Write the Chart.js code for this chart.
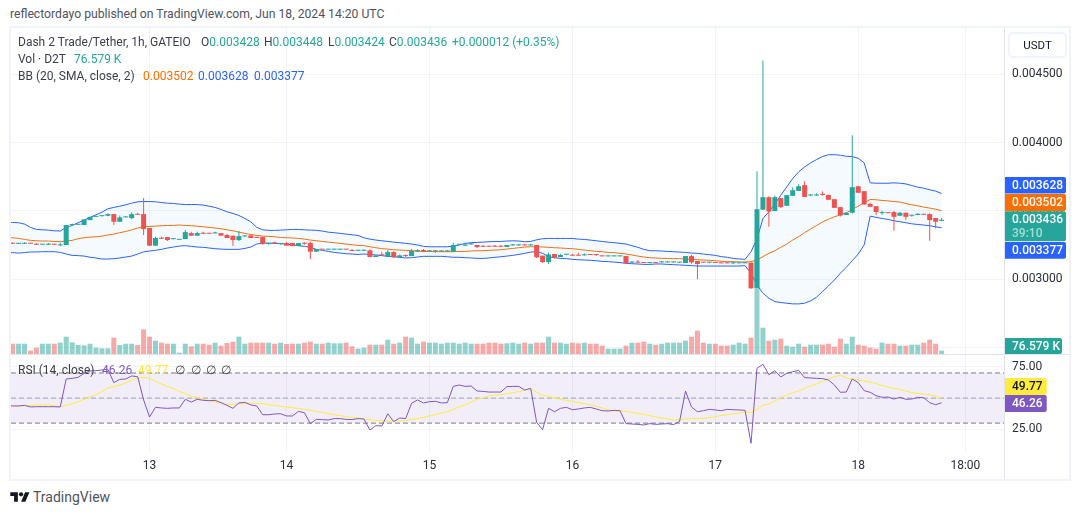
<!DOCTYPE html>
<html>
<head>
<meta charset="utf-8">
<title>Dash 2 Trade/Tether 1h</title>
<script src="https://cdn.jsdelivr.net/npm/chart.js@4/dist/chart.umd.min.js"></script>
<style>
  html, body { margin: 0; padding: 0; background: #fff; }
  body { width: 1080px; height: 515px; position: relative; overflow: hidden; font-family: Roboto, sans-serif; font-size: 12px; color: #3b3f4a; }
  canvas { position: absolute; left: 11px; }
  #priceChart { top: 28px; }
  #rsiChart { top: 355px; }
  .t { position: absolute; white-space: pre; line-height: 14px; z-index: 3; }
  .frame { position: absolute; left: 9px; top: 26px; width: 1058px; height: 451px; border: 2px solid #f0f3fa; }
  .line { position: absolute; background: #e0e3eb; z-index: 2; }
  #unit { position: absolute; left: 1008px; top: 32px; width: 55px; height: 22px; border: 2px solid #f0f3fa; border-radius: 5px; text-align: center; line-height: 22px; color: #131722; font-size: 11.5px; z-index: 3; }
  .g { color: #26a69a; }
  #logo { position: absolute; left: 10px; top: 490px; }
</style>
</head>
<body>
<div class="t" style="left:10px;top:7px;font-size:12.2px;color:#50535e">reflectordayo published on TradingView.com, Jun 18, 2024 14:20 UTC</div>
<div class="frame"></div>
<canvas id="priceChart" width="1058" height="326"></canvas>
<canvas id="rsiChart" width="1058" height="124"></canvas>
<div class="line" style="left:11px;top:354px;width:1058px;height:1px"></div>
<div class="line" style="left:1004px;top:28px;width:1px;height:451px"></div>

<div class="t" style="left:18px;top:35px">Dash 2 Trade/Tether, 1h, GATEIO</div>
<div class="t" style="left:201px;top:35px">O<span class="g">0.003428</span></div>
<div class="t" style="left:264px;top:35px">H<span class="g">0.003448</span></div>
<div class="t" style="left:328px;top:35px">L<span class="g">0.003424</span></div>
<div class="t" style="left:389px;top:35px">C<span class="g">0.003436</span></div>
<div class="t g" style="left:452px;top:35px">+0.000012 (+0.35%)</div>
<div class="t" style="left:18px;top:52px">Vol · D2T</div>
<div class="t g" style="left:74px;top:52px">76.579 K</div>
<div class="t" style="left:18px;top:69px">BB (20, SMA, close, 2)</div>
<div class="t" style="left:143px;top:69px;color:#ff6d00">0.003502</div>
<div class="t" style="left:198px;top:69px;color:#2962ff">0.003628</div>
<div class="t" style="left:254px;top:69px;color:#2962ff">0.003377</div>
<div class="t" style="left:18px;top:363px">RSI (14, close)</div>
<div class="t" style="left:102px;top:363px;color:#7e57c2">46.26</div>
<div class="t" style="left:138px;top:363px;color:#ffeb3b">49.77</div>
<div class="t" style="left:175px;top:363px">∅</div>
<div class="t" style="left:191px;top:363px">∅</div>
<div class="t" style="left:206px;top:363px">∅</div>
<div class="t" style="left:221px;top:363px">∅</div>
<div id="unit">USDT</div>
<svg id="logo" width="20" height="14" viewBox="0 0 36 26"><path fill="#131722" d="M14 22H7V11H0V4h14v18zM28 22h-8l7.5-18h8L28 22z"/><circle fill="#131722" cx="20" cy="8" r="4"/></svg>
<div class="t" style="left:33px;top:490px;font-size:14px;color:#50535e">TradingView</div>

<script>
// prices in millionths of USDT, one entry per hourly bar
const opens = [3263,
  3263,3260,3260,3263,3258,3253,3253,3255,3248,3251,
  3397,3399,3397,3433,3457,3462,3465,3477,3421,3453,
  3448,3479,3477,3375,3246,3304,3309,3294,3289,3294,
  3338,3319,3338,3338,3336,3338,3324,3319,3287,3314,
  3321,3309,3309,3258,3268,3258,3265,3265,3243,3265,
  3265,3202,3219,3217,3217,3217,3219,3214,3209,3209,
  3212,3163,3182,3165,3199,3161,3175,3170,3202,3214,
  3204,3204,3204,3204,3202,3253,3246,3255,3251,3243,
  3243,3243,3243,3236,3248,3248,3253,3248,3251,3173,
  3126,3185,3163,3180,3178,3178,3175,3182,3182,3173,
  3168,3168,3168,3170,3122,3126,3124,3119,3124,3124,
  3124,3124,3122,3119,3170,3134,3124,3122,3122,3122,
  3122,3117,3117,3117,3122,2937,3509,3601,3499,3594,
  3538,3611,3647,3689,3613,3613,3623,3616,3586,3528,
  3470,3487,3681,3645,3552,3535,3484,3489,3492,3465,
  3487,3465,3470,3477,3477,3448,3428];
const highs = [3272,
  3272,3265,3272,3265,3263,3258,3265,3258,3268,3397,
  3406,3406,3438,3457,3462,3467,3484,3477,3467,3462,
  3491,3487,3594,3375,3311,3311,3309,3299,3292,3360,
  3348,3348,3348,3341,3348,3338,3331,3319,3353,3324,
  3328,3311,3311,3265,3275,3263,3272,3265,3265,3272,
  3275,3221,3219,3219,3219,3219,3219,3221,3214,3219,
  3219,3175,3202,3214,3207,3182,3182,3221,3219,3221,
  3214,3212,3212,3214,3268,3258,3258,3263,3251,3251,
  3246,3251,3251,3251,3258,3258,3260,3260,3251,3173,
  3197,3185,3185,3185,3185,3195,3190,3185,3185,3173,
  3173,3173,3173,3170,3134,3141,3126,3126,3126,3134,
  3129,3129,3126,3170,3178,3134,3126,3126,3124,3124,
  3124,3129,3124,3124,3122,3791,4601,3608,3613,3594,
  3616,3672,3696,3718,3623,3628,3642,3621,3586,3528,
  3489,4054,3681,3645,3560,3535,3501,3491,3499,3492,
  3489,3472,3484,3479,3484,3448,3448];
const lows = [3258,
  3258,3258,3258,3258,3251,3251,3251,3251,3243,3251,
  3395,3397,3397,3433,3455,3460,3462,3397,3421,3453,
  3440,3470,3324,3243,3243,3294,3280,3292,3287,3294,
  3319,3319,3333,3333,3336,3319,3302,3243,3280,3311,
  3302,3302,3251,3253,3258,3255,3246,3243,3243,3253,
  3148,3202,3217,3214,3214,3214,3217,3207,3207,3209,
  3161,3163,3170,3163,3158,3158,3163,3170,3199,3199,
  3204,3195,3199,3202,3199,3253,3246,3255,3229,3236,
  3238,3238,3238,3236,3246,3246,3248,3246,3156,3119,
  3112,3153,3163,3178,3173,3173,3173,3178,3170,3168,
  3166,3166,3166,3117,3119,3122,3119,3117,3119,3122,
  3122,3122,3119,3119,3114,3000,3122,3117,3119,3117,
  3117,3112,3117,3117,2930,2937,3509,3385,3499,3521,
  3538,3611,3647,3603,3608,3611,3611,3582,3523,3460,
  3470,3482,3633,3543,3530,3470,3472,3484,3355,3465,
  3433,3457,3470,3472,3282,3372,3424];
const closes = [3260,
  3260,3263,3263,3260,3253,3255,3258,3253,3251,3397,
  3401,3404,3438,3457,3462,3467,3477,3421,3453,3457,
  3477,3472,3367,3246,3302,3297,3287,3299,3292,3345,
  3319,3338,3333,3333,3341,3319,3302,3287,3316,3319,
  3302,3302,3260,3263,3263,3263,3246,3243,3265,3260,
  3202,3221,3217,3219,3219,3219,3217,3207,3212,3214,
  3163,3175,3175,3199,3161,3175,3170,3207,3212,3202,
  3212,3212,3207,3209,3251,3258,3255,3263,3236,3238,
  3238,3238,3238,3251,3253,3253,3248,3253,3161,3126,
  3182,3161,3178,3185,3173,3173,3180,3178,3178,3168,
  3173,3173,3173,3117,3126,3122,3119,3126,3119,3129,
  3126,3126,3126,3170,3124,3112,3122,3126,3119,3117,
  3117,3122,3122,3122,2934,3513,3601,3496,3601,3528,
  3616,3652,3681,3603,3616,3618,3618,3582,3523,3467,
  3487,3674,3633,3548,3530,3492,3489,3484,3457,3487,
  3457,3470,3479,3472,3433,3421,3436];

// volume in thousands of D2T
const volumes = [237,
  237,237,237,77,146,237,237,237,260,398,
  268,207,199,237,146,130,130,375,207,237,
  237,207,567,398,306,260,237,237,31,237,
  176,237,237,214,260,191,253,283,398,237,
  260,260,260,260,237,260,230,237,237,260,
  283,237,237,260,245,245,260,176,123,146,
  214,214,214,329,237,260,398,375,237,283,
  260,260,237,260,260,237,260,237,237,237,
  260,260,237,245,260,237,260,237,260,260,
  398,260,260,237,260,245,260,237,237,191,
  123,123,123,191,260,260,283,237,214,237,
  260,260,260,306,398,536,260,237,237,191,
  191,214,260,237,375,2200,605,306,329,352,
  191,168,237,168,214,214,214,237,168,352,
  237,398,214,191,146,123,260,237,237,191,
  191,214,214,260,329,237,77];

const bbUpper = [3416,
  3416,3414,3404,3380,3365,3362,3360,3355,3353,3380,
  3394,3414,3433,3453,3472,3491,3516,3526,3535,3545,
  3557,3567,3569,3569,3567,3562,3557,3555,3550,3547,
  3547,3547,3543,3535,3526,3511,3494,3482,3467,3445,
  3421,3380,3362,3358,3358,3360,3362,3365,3365,3362,
  3360,3358,3353,3345,3341,3336,3331,3326,3321,3304,
  3294,3287,3282,3277,3272,3268,3263,3258,3251,3241,
  3238,3238,3238,3238,3243,3251,3263,3268,3270,3272,
  3275,3277,3277,3280,3282,3280,3275,3277,3289,3297,
  3299,3299,3299,3299,3299,3294,3292,3287,3282,3277,
  3272,3268,3263,3258,3246,3234,3219,3209,3209,3207,
  3204,3202,3199,3197,3192,3190,3185,3180,3175,3166,
  3161,3153,3149,3146,3202,3295,3445,3494,3550,3616,
  3676,3737,3786,3822,3852,3876,3898,3912,3912,3908,
  3900,3898,3886,3852,3706,3703,3703,3703,3706,3703,
  3698,3686,3674,3667,3655,3645,3628];
const bbBasis = [3304,
  3304,3299,3292,3285,3282,3280,3280,3277,3275,3280,
  3285,3297,3304,3309,3311,3316,3324,3331,3341,3350,
  3362,3375,3384,3387,3389,3392,3394,3394,3397,3394,
  3392,3389,3384,3380,3375,3370,3362,3355,3345,3336,
  3328,3321,3316,3314,3311,3306,3304,3302,3299,3294,
  3287,3282,3277,3272,3268,3263,3258,3253,3248,3246,
  3238,3231,3224,3221,3216,3214,3212,3209,3207,3204,
  3204,3202,3202,3202,3202,3204,3204,3207,3209,3209,
  3212,3214,3216,3221,3226,3231,3236,3238,3238,3236,
  3234,3231,3229,3226,3224,3219,3214,3209,3204,3202,
  3197,3195,3190,3185,3178,3170,3163,3158,3156,3153,
  3153,3151,3151,3148,3146,3143,3141,3139,3136,3132,
  3129,3129,3127,3127,3129,3141,3166,3190,3209,3234,
  3258,3287,3312,3341,3368,3394,3419,3440,3457,3472,
  3487,3511,3535,3560,3584,3582,3577,3574,3569,3565,
  3555,3545,3538,3528,3521,3513,3502];
const bbLower = [3195,
  3195,3192,3195,3200,3200,3202,3202,3202,3197,3185,
  3175,3173,3170,3161,3156,3148,3148,3151,3156,3163,
  3170,3185,3200,3207,3212,3219,3229,3236,3243,3246,
  3241,3236,3234,3229,3224,3221,3219,3219,3219,3226,
  3236,3258,3265,3265,3263,3260,3258,3251,3246,3241,
  3234,3219,3212,3204,3197,3192,3187,3185,3182,3185,
  3182,3178,3173,3168,3165,3161,3156,3158,3163,3168,
  3168,3168,3168,3165,3161,3161,3158,3156,3153,3153,
  3156,3161,3165,3170,3175,3182,3190,3199,3202,3190,
  3165,3158,3153,3151,3146,3143,3141,3139,3136,3131,
  3129,3126,3122,3117,3114,3112,3109,3109,3112,3112,
  3109,3107,3105,3102,3100,3097,3097,3097,3097,3097,
  3097,3097,3097,3100,3044,2959,2898,2861,2837,2830,
  2825,2820,2820,2825,2842,2869,2910,2951,2995,3044,
  3088,3136,3185,3251,3462,3453,3445,3438,3428,3421,
  3414,3406,3401,3397,3392,3384,3377];

const rsiValues = [43.7,
  43.7,43.7,44.2,42.9,43.1,43.1,43.1,43.1,42.9,65.2,
  65.7,66.5,69.7,71.6,71.8,72.4,72.9,62.3,64.9,65.2,
  67.6,67.0,48.5,34.9,42.6,42.1,41.8,42.1,42.1,49.0,
  46.8,49.0,48.2,47.9,48.2,46.3,44.2,41.8,46.1,46.6,
  44.5,43.7,36.7,36.7,37.3,37.5,35.7,35.7,39.4,38.3,
  29.6,33.0,32.8,32.5,33.6,33.6,33.0,32.8,33.6,33.3,
  24.5,28.0,27.7,37.5,31.2,34.1,33.6,45.8,48.5,46.1,
  47.1,47.4,46.1,46.3,59.3,60.4,59.3,59.6,55.6,55.3,
  54.8,54.8,54.8,59.1,59.3,59.3,56.4,57.7,30.6,24.8,
  41.8,39.1,41.8,42.6,40.7,41.3,42.1,42.6,41.3,39.9,
  39.7,40.2,39.9,29.6,29.3,29.0,28.5,29.6,29.0,29.3,
  29.6,28.8,31.4,55.6,42.9,39.1,39.9,41.0,40.5,39.9,
  41.0,40.7,40.5,40.2,13.9,73.7,76.9,68.6,71.8,66.8,
  69.7,71.0,72.1,66.3,66.0,65.7,65.5,64.4,60.4,54.6,
  54.8,65.2,62.3,55.9,54.6,51.9,50.6,50.8,49.2,50.6,
  49.0,49.2,50.6,50.3,46.3,44.7,46.26];
const rsiAverage = [43.7,
  43.7,43.7,43.9,44.2,44.5,44.5,44.7,43.9,43.1,44.2,
  45.5,47.1,49.0,50.8,52.7,55.1,58.0,59.3,60.4,62.0,
  64.4,66.0,66.5,65.7,63.3,61.2,59.3,57.5,55.3,53.5,
  51.6,50.3,49.0,47.9,46.8,46.1,45.0,45.0,45.3,45.5,
  45.8,45.8,45.5,44.7,44.2,43.4,42.9,42.3,41.8,41.0,
  40.2,39.4,38.6,37.8,36.7,36.0,35.2,34.6,34.1,33.3,
  32.8,32.2,32.0,31.7,31.7,32.0,32.0,33.0,33.6,34.6,
  35.7,36.7,38.1,39.1,41.0,42.9,44.7,46.6,49.0,50.3,
  51.6,52.4,52.7,53.5,54.3,55.1,56.2,57.5,54.6,52.2,
  51.4,50.0,49.0,48.2,47.4,46.3,45.5,44.7,43.4,42.1,
  40.7,39.4,39.9,39.4,38.6,37.8,37.0,36.0,34.9,34.1,
  33.3,32.5,32.8,33.3,33.6,33.8,33.8,34.4,35.2,36.2,
  36.7,37.5,38.1,38.9,38.6,41.0,44.2,45.2,47.7,50.0,
  52.4,54.3,55.6,57.7,59.6,61.2,63.3,65.2,67.1,68.1,
  66.2,65.2,64.4,63.6,62.8,61.5,59.9,58.8,57.7,56.9,
  55.6,54.3,53.8,53.2,52.7,51.4,49.77];

const priceTicks = [2500, 3000, 3500, 4000, 4500];
const rsiTicks = [25, 50, 75];
const rsiLevels = [70, 50, 30];
const dayBars = [24, 47, 71, 95, 119, 143, 161];
const dayLabels = ['13', '14', '15', '16', '17', '18', '18:00'];

const UP = '#26a69a';
const DOWN = '#ef5350';
const GRID = '#f0f3fa';
const TICK_FONT = { family: 'Roboto', size: 12 };

// visible window of the time scale, in bars
const X_MIN = 0.731;
const X_MAX = 167.48;

const isUp = closes.map((c, i) => c >= opens[i]);

function series(values) {
  return values.map((v, i) => ({ x: i, y: v }));
}

function timeAxis(showLabels) {
  return {
    type: 'linear',
    min: X_MIN,
    max: X_MAX,
    offset: false,
    afterBuildTicks: scale => { scale.ticks = dayBars.map(v => ({ value: v })); },
    afterFit: scale => {
      scale.height = showLabels ? 27 : 0;
      scale.paddingLeft = 0;
      scale.paddingRight = 0;
    },
    grid: { color: GRID, offset: false, drawTicks: false },
    border: { display: false },
    ticks: {
      display: showLabels,
      autoSkip: false,
      maxRotation: 0,
      padding: 7,
      color: '#2a2e39',
      font: TICK_FONT,
      callback: v => dayLabels[dayBars.indexOf(v)]
    }
  };
}

function valueAxis(min, max, tickValues, format) {
  return {
    position: 'right',
    min: min,
    max: max,
    afterBuildTicks: scale => { scale.ticks = tickValues.map(v => ({ value: v })); },
    afterFit: scale => {
      scale.width = 65;
      scale.paddingTop = 0;
      scale.paddingBottom = 0;
    },
    grid: { color: GRID, drawTicks: false },
    border: { display: false },
    ticks: { padding: 8, color: '#2a2e39', font: TICK_FONT, callback: format }
  };
}

// value labels on the right axis, TradingView stacks them so they do not overlap
function tagsPlugin(tags) {
  return {
    id: 'tags',
    afterDraw(chart) {
      const ctx = chart.ctx;
      ctx.save();
      tags.forEach(tag => {
        ctx.fillStyle = tag.color;
        ctx.beginPath();
        ctx.roundRect(993, tag.top, tag.width, tag.height, [0, 2, 2, 0]);
        ctx.fill();
        ctx.font = '500 12px Roboto';
        ctx.textBaseline = 'middle';
        ctx.fillStyle = tag.textColor;
        ctx.fillText(tag.text, 1001, tag.top + 8.5);
        if (tag.sub) {
          ctx.fillStyle = 'rgba(255,255,255,0.6)';
          ctx.fillText(tag.sub, 1001, tag.top + 22.5);
        }
      });
      ctx.restore();
    }
  };
}

const sharedOptions = {
  responsive: false,
  animation: false,
  events: [],
  layout: { padding: 0 },
  plugins: { legend: { display: false }, tooltip: { enabled: false } }
};

new Chart(document.getElementById('priceChart'), {
  type: 'bar',
  data: {
    datasets: [
      { label: 'Vol', yAxisID: 'yVol', order: 6, grouped: false, barThickness: 5, inflateAmount: 0,
        data: series(volumes),
        backgroundColor: isUp.map(u => u ? 'rgba(38,166,154,0.5)' : 'rgba(239,83,80,0.5)') },
      { type: 'line', label: 'BB upper', yAxisID: 'y', order: 3, data: series(bbUpper),
        borderColor: '#2962ff', borderWidth: 1, pointRadius: 0, tension: 0,
        fill: { target: 2 }, backgroundColor: 'rgba(33,150,243,0.05)' },
      { type: 'line', label: 'BB lower', yAxisID: 'y', order: 4, data: series(bbLower),
        borderColor: '#2962ff', borderWidth: 1, pointRadius: 0, tension: 0, fill: false },
      { type: 'line', label: 'BB basis', yAxisID: 'y', order: 5, data: series(bbBasis),
        borderColor: '#ff6d00', borderWidth: 1, pointRadius: 0, tension: 0, fill: false },
      { label: 'Wicks', yAxisID: 'y', order: 2, grouped: false, barThickness: 1, inflateAmount: 0,
        data: lows.map((l, i) => ({ x: i, y: [l, highs[i]] })),
        backgroundColor: isUp.map(u => u ? UP : DOWN) },
      { label: 'Bodies', yAxisID: 'y', order: 1, grouped: false, barThickness: 5, inflateAmount: 0, minBarLength: 1,
        data: opens.map((o, i) => ({ x: i, y: [o, closes[i]] })),
        backgroundColor: isUp.map(u => u ? UP : DOWN) }
    ]
  },
  options: {
    ...sharedOptions,
    scales: {
      x: timeAxis(false),
      y: valueAxis(2453.4, 4838.8, priceTicks, v => (v / 1e6).toFixed(6)),
      yVol: { display: false, position: 'left', min: 0, max: 7500 }
    }
  },
  plugins: [tagsPlugin([
    { text: '0.003628', top: 149, height: 16.5, width: 62, color: '#2962ff', textColor: '#fff' },
    { text: '0.003502', top: 166, height: 17, width: 62, color: '#ff6d00', textColor: '#fff' },
    { text: '0.003436', sub: '39:10', top: 183.3, height: 30, width: 62, color: UP, textColor: '#fff' },
    { text: '0.003377', top: 214, height: 16.7, width: 62, color: '#2962ff', textColor: '#fff' },
    { text: '76.579 K', top: 310, height: 16, width: 58, color: UP, textColor: '#fff' }
  ])]
});

new Chart(document.getElementById('rsiChart'), {
  type: 'line',
  data: {
    datasets: [
      ...rsiLevels.map((level, i) => ({
        label: 'Level ' + level, order: 4,
        data: [{ x: X_MIN, y: level }, { x: X_MAX, y: level }],
        borderColor: level === 50 ? 'rgba(120,123,134,0.6)' : '#787b86',
        borderWidth: 1, borderDash: [5, 3], pointRadius: 0,
        fill: i === 0 ? { target: 2 } : false,
        backgroundColor: 'rgba(126,87,194,0.1)'
      })),
      { label: 'RSI-based MA', order: 2, data: series(rsiAverage),
        borderColor: '#ffeb3b', borderWidth: 1, pointRadius: 0, tension: 0 },
      { label: 'RSI', order: 1, data: series(rsiValues),
        borderColor: '#7e57c2', borderWidth: 1, pointRadius: 0, tension: 0 }
    ]
  },
  options: {
    ...sharedOptions,
    scales: {
      x: timeAxis(true),
      y: valueAxis(6.98, 84.33, rsiTicks, v => v.toFixed(2))
    }
  },
  plugins: [tagsPlugin([
    { text: '49.77', top: 23, height: 17, width: 42.7, color: '#ffeb3b', textColor: '#131722' },
    { text: '46.26', top: 40, height: 17, width: 42.7, color: '#7e57c2', textColor: '#fff' }
  ])]
});
</script>
</body>
</html>
